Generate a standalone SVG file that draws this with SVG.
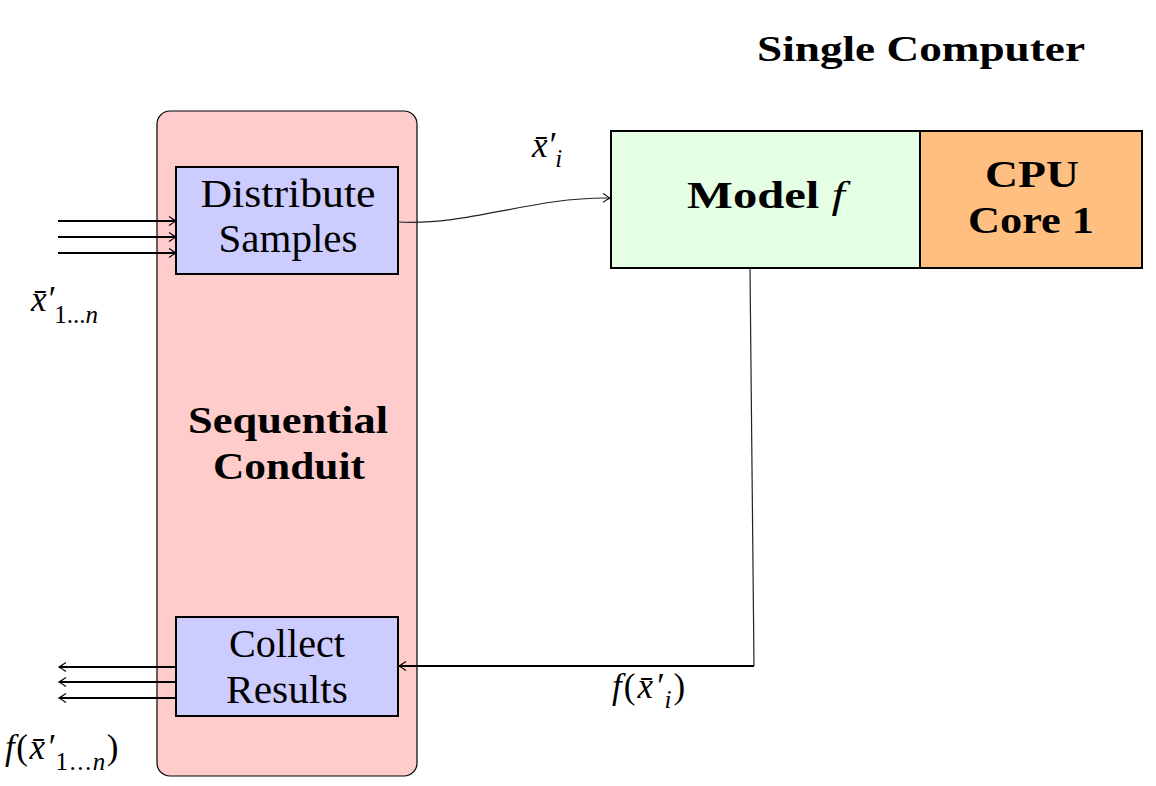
<svg xmlns="http://www.w3.org/2000/svg" width="1156" height="786" viewBox="0 0 1156 786">
<style>
.rm{font-family:"Liberation Serif","DejaVu Serif",serif;font-size:41px;fill:#000}
.bd{font-family:"Liberation Serif","DejaVu Serif",serif;font-size:38px;font-weight:bold;fill:#000}
.mt{font-family:"Liberation Serif","DejaVu Serif",serif;font-size:35px;font-style:italic;fill:#000}
.sb{font-size:25px}
.box{stroke:#000;stroke-width:2}
.thick{fill:none;stroke:#000;stroke-width:2}
.thin{fill:none;stroke:#222;stroke-width:1.2}
</style>
<defs>
<marker id="ar" viewBox="-10 -6 12 12" markerWidth="12" markerHeight="12" refX="0" refY="0" orient="auto" markerUnits="userSpaceOnUse">
<path d="M-7,-4.5 Q-2,-1 0,0 Q-2,1 -7,4.5" fill="none" stroke="#000" stroke-width="1.1"/>
</marker>
</defs>
<rect width="1156" height="786" fill="#fff"/>
<g id="conduit">
<rect x="157" y="111" width="260" height="665" rx="13" fill="#FFCCCC" stroke="#000" stroke-width="1.2"/>
<text class="bd" x="288" y="433" text-anchor="middle" textLength="200" lengthAdjust="spacingAndGlyphs">Sequential</text>
<text class="bd" x="289" y="479" text-anchor="middle" textLength="152" lengthAdjust="spacingAndGlyphs">Conduit</text>
</g>
<g id="distribute">
<rect class="box" x="176" y="167" width="222" height="107" fill="#CCCCFF"/>
<text class="rm" x="288" y="207" text-anchor="middle" textLength="175" lengthAdjust="spacingAndGlyphs">Distribute</text>
<text class="rm" x="288" y="252" text-anchor="middle" textLength="139" lengthAdjust="spacingAndGlyphs">Samples</text>
</g>
<g id="collect">
<rect class="box" x="176" y="617" width="222" height="99" fill="#CCCCFF"/>
<text class="rm" x="287" y="657" text-anchor="middle" textLength="116" lengthAdjust="spacingAndGlyphs">Collect</text>
<text class="rm" x="287" y="703" text-anchor="middle" textLength="122" lengthAdjust="spacingAndGlyphs">Results</text>
</g>
<g id="model">
<rect class="box" x="611" y="131" width="309" height="137" fill="#E5FFE5"/>
<text class="bd" x="687" y="208" textLength="158" lengthAdjust="spacingAndGlyphs">Model <tspan font-style="italic" font-weight="normal">f</tspan></text>
</g>
<g id="cpu">
<rect class="box" x="920" y="131" width="222" height="137" fill="#FFBF80"/>
<text class="bd" x="1032" y="187" text-anchor="middle" textLength="94" lengthAdjust="spacingAndGlyphs">CPU</text>
<text class="bd" x="1031" y="233" text-anchor="middle" textLength="126" lengthAdjust="spacingAndGlyphs">Core 1</text>
</g>
<g id="title">
<text class="bd" x="757" y="61" textLength="328" lengthAdjust="spacingAndGlyphs" style="font-size:36px">Single Computer</text>
</g>
<g id="connectors">
<line class="thick" x1="58" y1="221" x2="176" y2="221" marker-end="url(#ar)"/>
<line class="thick" x1="58" y1="237" x2="176" y2="237" marker-end="url(#ar)"/>
<line class="thick" x1="58" y1="253" x2="176" y2="253" marker-end="url(#ar)"/>
<line class="thick" x1="176" y1="667" x2="59" y2="667" marker-end="url(#ar)"/>
<line class="thick" x1="176" y1="682" x2="59" y2="682" marker-end="url(#ar)"/>
<line class="thick" x1="176" y1="698" x2="59" y2="698" marker-end="url(#ar)"/>
<path class="thin" d="M398,222 C470,226 530,197 610,198" marker-end="url(#ar)"/>
<path class="thin" d="M750,268 L754,666"/>
<path class="thick" d="M754,666 L399,666" marker-end="url(#ar)"/>
</g>
<g id="labels">
<text class="mt" x="31" y="311">x̄′<tspan class="sb" font-style="normal" dy="12">1</tspan><tspan class="sb" font-style="normal">...</tspan><tspan class="sb">n</tspan></text>
<text class="mt" x="532" y="157">x̄′<tspan class="sb" dy="10">i</tspan></text>
<text class="mt" x="5" y="759" letter-spacing="1.5">f<tspan font-style="normal">(</tspan>x̄′<tspan class="sb" font-style="normal" dy="11">1...</tspan><tspan class="sb">n</tspan><tspan font-style="normal" dy="-11">)</tspan></text>
<text class="mt" x="612" y="698" letter-spacing="2">f<tspan font-style="normal">(</tspan>x̄′<tspan class="sb" dy="10">i</tspan><tspan font-style="normal" dy="-10">)</tspan></text>
</g>
</svg>
